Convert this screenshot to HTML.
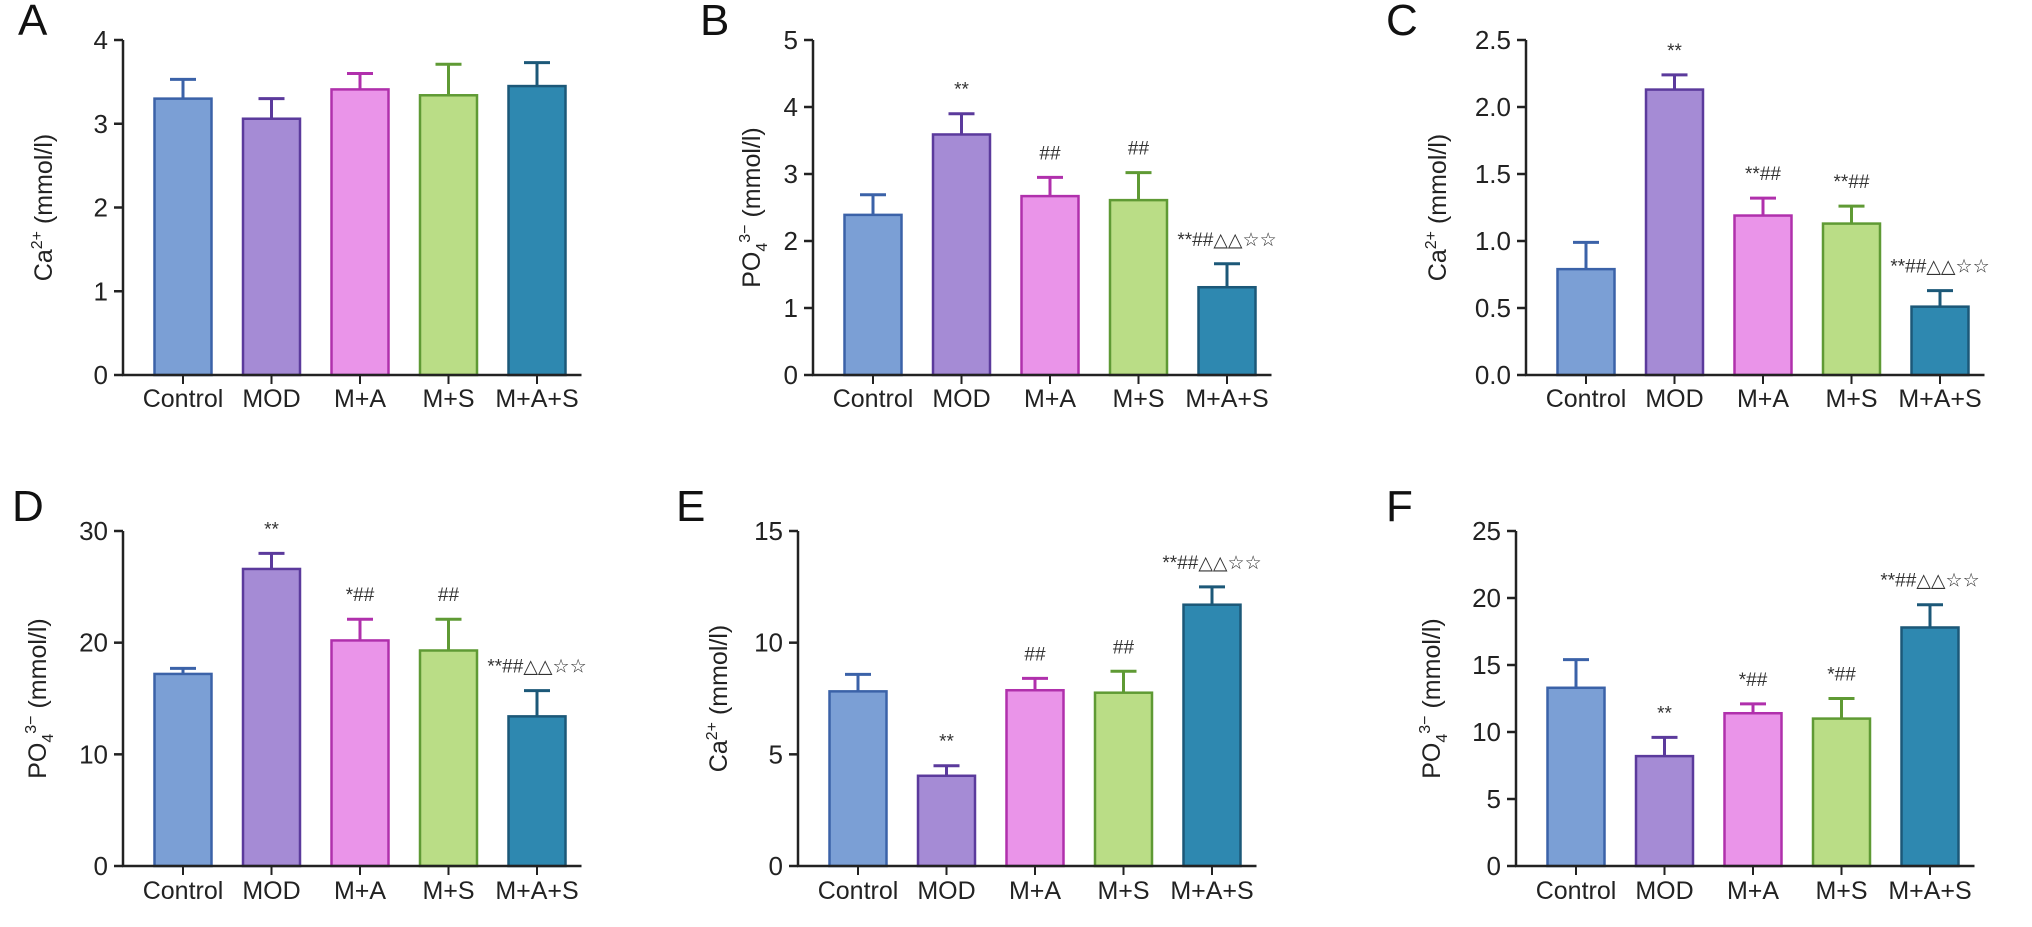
<!DOCTYPE html>
<html><head><meta charset="utf-8">
<style>
html,body{margin:0;padding:0;background:#fff;}
svg{display:block;font-family:"Liberation Sans","DejaVu Sans",sans-serif;}
</style></head>
<body>
<svg id="fig" width="2032" height="927" viewBox="0 0 2032 927" xmlns="http://www.w3.org/2000/svg"></svg>
<script>
// Shared categories
const categories = ["Control","MOD","M+A","M+S","M+A+S"];
// Panel A: Ca2+
const valuesA = [3.30, 3.06, 3.41, 3.34, 3.45];
const errA    = [3.53, 3.30, 3.60, 3.71, 3.73];
const annA    = ["","","","",""];
const ticksA  = ["0","1","2","3","4"];
// Panel B: PO4
const valuesB = [2.39, 3.59, 2.67, 2.61, 1.31];
const errB    = [2.69, 3.90, 2.95, 3.02, 1.66];
const annB    = ["","**","##","##","**##△△☆☆"];
const ticksB  = ["0","1","2","3","4","5"];
// Panel C: Ca2+
const valuesC = [0.79, 2.13, 1.19, 1.13, 0.51];
const errC    = [0.99, 2.24, 1.32, 1.26, 0.63];
const annC    = ["","**","**##","**##","**##△△☆☆"];
const ticksC  = ["0.0","0.5","1.0","1.5","2.0","2.5"];
// Panel D: PO4
const valuesD = [17.2, 26.6, 20.2, 19.3, 13.4];
const errD    = [17.7, 28.0, 22.1, 22.1, 15.7];
const annD    = ["","**","*##","##","**##△△☆☆"];
const ticksD  = ["0","10","20","30"];
// Panel E: Ca2+
const valuesE = [7.82, 4.04, 7.87, 7.76, 11.7];
const errE    = [8.58, 4.49, 8.40, 8.72, 12.5];
const annE    = ["","**","##","##","**##△△☆☆"];
const ticksE  = ["0","5","10","15"];
// Panel F: PO4
const valuesF = [13.3, 8.2, 11.4, 11.0, 17.8];
const errF    = [15.4, 9.6, 12.1, 12.5, 19.5];
const annF    = ["","**","*##","*##","**##△△☆☆"];
const ticksF  = ["0","5","10","15","20","25"];

const fills   = ["#7b9fd5","#a58bd5","#ea94e9","#badd86","#2e88b0"];
const strokes = ["#3b62a8","#5b3a9c","#b030ac","#5f9a34","#1c5878"];

const NS = "http://www.w3.org/2000/svg";
const svg = document.getElementById("fig");
function mk(tag, attrs, parent){
  const e = document.createElementNS(NS, tag);
  for (const k in attrs) e.setAttribute(k, attrs[k]);
  (parent||svg).appendChild(e);
  return e;
}

const panels = [
  {id:"a",letter:"A",vals:valuesA,err:errA,ann:annA,ticks:ticksA,ion:"ca",ax:123,lx:18,tx:52,row:0},
  {id:"b",letter:"B",vals:valuesB,err:errB,ann:annB,ticks:ticksB,ion:"po",ax:813,lx:700,tx:760,row:0},
  {id:"c",letter:"C",vals:valuesC,err:errC,ann:annC,ticks:ticksC,ion:"ca",ax:1526,lx:1386,tx:1446,row:0},
  {id:"d",letter:"D",vals:valuesD,err:errD,ann:annD,ticks:ticksD,ion:"po",ax:123,lx:12,tx:46,row:1},
  {id:"e",letter:"E",vals:valuesE,err:errE,ann:annE,ticks:ticksE,ion:"ca",ax:798,lx:676,tx:727,row:1},
  {id:"f",letter:"F",vals:valuesF,err:errF,ann:annF,ticks:ticksF,ion:"po",ax:1516,lx:1386,tx:1440,row:1}
];
const rows = [{top:40,bot:375,label:35,xl:407},{top:531,bot:866,label:521,xl:899}];
const firstOff = 60, spacing = 88.5, barW = 57;

panels.forEach(p=>{
  const r = rows[p.row];
  const g = mk("g",{});
  
  
  const vmax = parseFloat(p.ticks[p.ticks.length-1]);
  const y = v => r.bot - (v/vmax)*(r.bot-r.top);
  const x = i => p.ax + firstOff + i*spacing;
  const axRight = x(categories.length-1) + barW/2 + 16;

  const lt = mk("text",{x:p.lx,y:r.label+ (p.row?0:0),"font-size":44,fill:"#111"},g);
  lt.textContent = p.letter;
  
  

  // bars
  categories.forEach((c,i)=>{
    const top = y(p.vals[i]), et = y(p.err[i]);
    const eb = mk("line",{x1:x(i),x2:x(i),y1:top,y2:et,stroke:strokes[i],"stroke-width":3},g);
    
    
    const cap = mk("line",{x1:x(i)-13,x2:x(i)+13,y1:et,y2:et,stroke:strokes[i],"stroke-width":3},g);
    
    
    const b = mk("rect",{x:x(i)-barW/2,y:top,width:barW,height:r.bot-top,fill:fills[i],stroke:strokes[i],"stroke-width":2.5},g);
    
    
    if (p.ann[i]) {
      const a = mk("text",{x:x(i),y:et-18,"text-anchor":"middle","font-size":19,fill:"#333"},g);
      a.textContent = p.ann[i];
      
      
    }
    const tk = mk("line",{x1:x(i),x2:x(i),y1:r.bot,y2:r.bot+9,stroke:"#222","stroke-width":2},g);
    
    
    const xl = mk("text",{x:x(i),y:r.xl,"text-anchor":"middle","font-size":25,fill:"#222"},g);
    xl.textContent = c;
    
    
  });

  // axes
  const ya = mk("line",{x1:p.ax,x2:p.ax,y1:r.top,y2:r.bot+1,stroke:"#222","stroke-width":2.5},g);
  
  
  const xa = mk("line",{x1:p.ax-1,x2:axRight,y1:r.bot,y2:r.bot,stroke:"#222","stroke-width":2.5},g);
  
  
  p.ticks.forEach(t=>{
    const yy = y(parseFloat(t));
    const tl = mk("line",{x1:p.ax-9,x2:p.ax,y1:yy,y2:yy,stroke:"#222","stroke-width":2.5},g);
    
    
    const tt = mk("text",{x:p.ax-15,y:yy+9,"text-anchor":"end","font-size":26,fill:"#222"},g);
    tt.textContent = t;
    
    
  });

  // y title
  const cy = (r.top+r.bot)/2;
  const yt = mk("text",{x:0,y:0,"text-anchor":"middle","font-size":25,fill:"#222",transform:`translate(${p.tx},${cy}) rotate(-90)`},g);
  
  
  if (p.ion==="ca") {
    yt.innerHTML = 'Ca<tspan dy="-10" font-size="16">2+</tspan><tspan dy="10"> (mmol/l)</tspan>';
  } else {
    yt.innerHTML = 'PO<tspan dy="7" font-size="16">4</tspan><tspan dy="-17" font-size="16">3−</tspan><tspan dy="10"> (mmol/l)</tspan>';
  }
});
</script>
</body></html>
